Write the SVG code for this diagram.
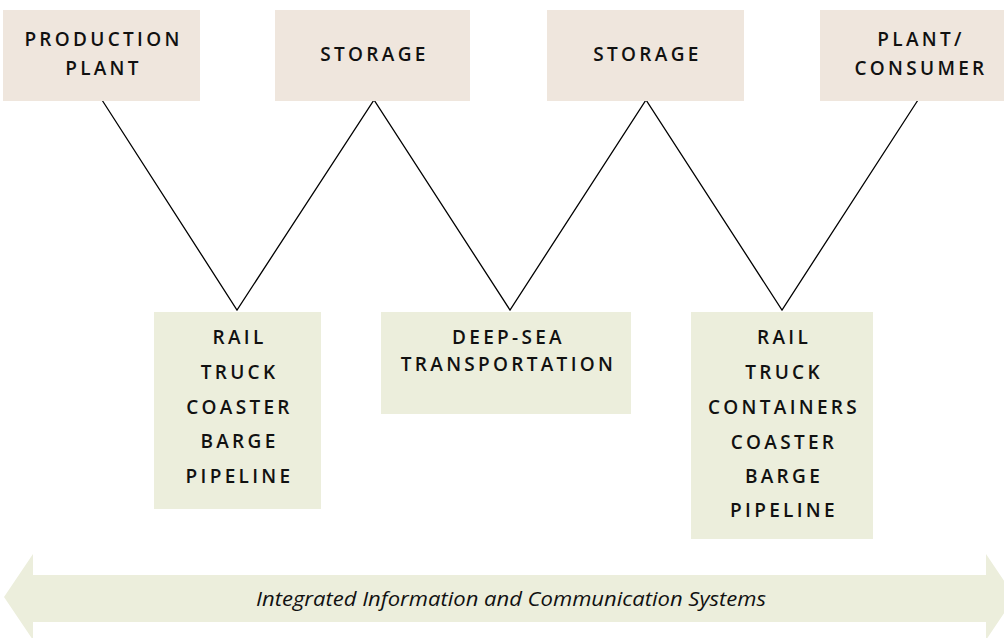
<svg xmlns="http://www.w3.org/2000/svg" width="1004" height="638" viewBox="0 0 1004 638">
<style>
.top{fill:#EFE6DD}
.bot{fill:#ECEEDC}
.lbl{font-family:"Open Sans","Noto Sans",sans-serif;font-size:19px;font-weight:600;letter-spacing:3.3px;fill:#111;text-anchor:middle}
.it{font-family:"Open Sans","Noto Sans",sans-serif;font-size:20px;font-style:italic;fill:#111;text-anchor:middle}
.conn{fill:none;stroke:#000;stroke-width:1.3;stroke-linejoin:miter}
</style>
<rect width="1004" height="638" fill="#fff"/>
<g id="connectors">
<polyline class="conn" points="102,100 237,310 374,100 510,310 646,100 782,310 918,100"/>
</g>
<g id="production-plant">
<rect class="top" x="3" y="10" width="197" height="91"/>
<text class="lbl" x="103.5" y="46">PRODUCTION</text>
<text class="lbl" x="103.5" y="75">PLANT</text>
</g>
<g id="storage-1">
<rect class="top" x="275" y="10" width="195" height="91"/>
<text class="lbl" x="374.5" y="61">STORAGE</text>
</g>
<g id="storage-2">
<rect class="top" x="547" y="10" width="197" height="91"/>
<text class="lbl" x="647.5" y="61">STORAGE</text>
</g>
<g id="plant-consumer">
<rect class="top" x="820" y="10" width="198" height="91"/>
<text class="lbl" x="921" y="46">PLANT/</text>
<text class="lbl" x="921" y="75">CONSUMER</text>
</g>
<g id="transport-1">
<rect class="bot" x="154" y="312" width="167" height="197"/>
<text class="lbl" x="239.5" y="344">RAIL</text>
<text class="lbl" x="239.5" y="379">TRUCK</text>
<text class="lbl" x="239.5" y="414">COASTER</text>
<text class="lbl" x="239.5" y="448">BARGE</text>
<text class="lbl" x="239.5" y="483">PIPELINE</text>
</g>
<g id="deep-sea">
<rect class="bot" x="381" y="312" width="250" height="102"/>
<text class="lbl" x="508.5" y="344">DEEP-SEA</text>
<text class="lbl" x="508.5" y="371">TRANSPORTATION</text>
</g>
<g id="transport-2">
<rect class="bot" x="691" y="312" width="182" height="227"/>
<text class="lbl" x="784" y="344">RAIL</text>
<text class="lbl" x="784" y="379">TRUCK</text>
<text class="lbl" x="784" y="414">CONTAINERS</text>
<text class="lbl" x="784" y="449">COASTER</text>
<text class="lbl" x="784" y="483">BARGE</text>
<text class="lbl" x="784" y="517">PIPELINE</text>
</g>
<g id="ics-arrow">
<polygon class="bot" points="4,597 33,554 33,575 986,575 986,554 1015,597 986,640 986,622 33,622 33,640"/>
<text class="it" x="511" y="606" textLength="510" lengthAdjust="spacingAndGlyphs">Integrated Information and Communication Systems</text>
</g>
</svg>
